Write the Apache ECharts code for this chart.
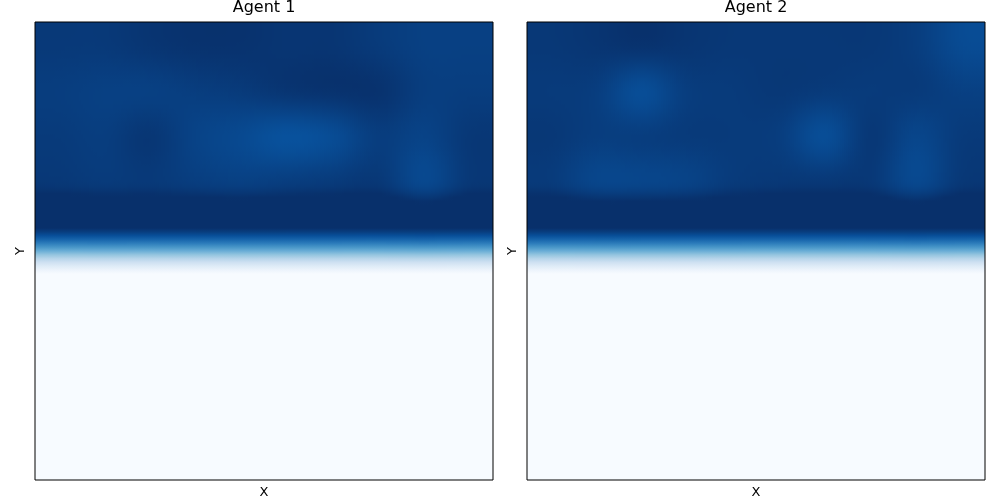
<!DOCTYPE html>
<html>
<head>
<meta charset="utf-8">
<script src="https://cdn.jsdelivr.net/npm/echarts@6/dist/echarts.min.js"></script>
<style>
  html, body { margin: 0; padding: 0; background: #fff; }
  #chart { width: 1000px; height: 500px; }
</style>
</head>
<body>
<div id="chart"></div>
<script>
// panel titles
const agentNames = ["Agent 1", "Agent 2"];

// 10x10 grids, row 0 = top of the panel
const agent1Values = [
  [0.965, 0.965, 0.98, 0.99, 0.99, 0.98, 0.98, 0.96, 0.94, 0.94],
  [0.95, 0.94, 0.94, 0.95, 0.96, 0.98, 0.99, 0.99, 0.95, 0.95],
  [0.96, 0.95, 0.975, 0.93, 0.905, 0.875, 0.895, 0.95, 0.93, 0.97],
  [0.97, 0.96, 0.965, 0.95, 0.94, 0.95, 0.96, 0.97, 0.91, 0.97],
  [1, 1, 1, 1, 1, 1, 1, 1, 1, 1],
  [0, 0, 0, 0, 0, 0, 0, 0, 0, 0],
  [0, 0, 0, 0, 0, 0, 0, 0, 0, 0],
  [0, 0, 0, 0, 0, 0, 0, 0, 0, 0],
  [0, 0, 0, 0, 0, 0, 0, 0, 0, 0],
  [0, 0, 0, 0, 0, 0, 0, 0, 0, 0]
];
const agent2Values = [
  [0.97, 0.98, 0.99, 0.98, 0.97, 0.97, 0.97, 0.97, 0.95, 0.90],
  [0.96, 0.95, 0.89, 0.95, 0.96, 0.97, 0.96, 0.96, 0.96, 0.94],
  [0.97, 0.95, 0.95, 0.96, 0.96, 0.95, 0.89, 0.97, 0.92, 0.96],
  [0.96, 0.92, 0.92, 0.93, 0.96, 0.97, 0.97, 0.97, 0.91, 0.97],
  [1, 1, 1, 1, 1, 1, 1, 1, 1, 1],
  [0, 0, 0, 0, 0, 0, 0, 0, 0, 0],
  [0, 0, 0, 0, 0, 0, 0, 0, 0, 0],
  [0, 0, 0, 0, 0, 0, 0, 0, 0, 0],
  [0, 0, 0, 0, 0, 0, 0, 0, 0, 0],
  [0, 0, 0, 0, 0, 0, 0, 0, 0, 0]
];

// matplotlib "Blues"
const bluesColors = ["#f7fbff", "#deebf7", "#c6dbef", "#9ecae1", "#6baed6",
                     "#4292c6", "#2171b5", "#08519c", "#08306b"];

function hexRgb(h) {
  return [parseInt(h.slice(1, 3), 16), parseInt(h.slice(3, 5), 16), parseInt(h.slice(5, 7), 16)];
}
const bluesRgb = bluesColors.map(hexRgb);

function blues(v) {
  v = Math.max(0, Math.min(1, v));
  let p = v * (bluesRgb.length - 1);
  let i = Math.min(bluesRgb.length - 2, Math.floor(p));
  let f = p - i;
  let a = bluesRgb[i], b = bluesRgb[i + 1];
  return "rgb(" + [0, 1, 2].map(k => Math.round(a[k] + (b[k] - a[k]) * f)).join(",") + ")";
}

// bicubic kernel, smooths the cells like imshow(interpolation="bicubic")
function kernel(t) {
  t = Math.abs(t);
  if (t <= 1) return 1.5 * t * t * t - 2.5 * t * t + 1;
  if (t < 2) return -0.5 * t * t * t + 2.5 * t * t - 4 * t + 2;
  return 0;
}

function sample(grid, gx, gy) {
  const n = grid.length, m = grid[0].length;
  const ix = Math.floor(gx), iy = Math.floor(gy);
  let v = 0;
  for (let j = -1; j <= 2; j++) {
    const wy = kernel(gy - (iy + j));
    if (!wy) continue;
    const r = Math.min(n - 1, Math.max(0, iy + j));
    for (let i = -1; i <= 2; i++) {
      const wx = kernel(gx - (ix + i));
      if (!wx) continue;
      const c = Math.min(m - 1, Math.max(0, ix + i));
      v += wx * wy * grid[r][c];
    }
  }
  return v;
}

function cellData(grid) {
  const out = [];
  grid.forEach((row, r) => row.forEach((v, c) => out.push([c, r, v])));
  return out;
}

// each cell is painted as 2px-wide columns with a vertical gradient
function renderCell(grid) {
  return function (params, api) {
    const col = api.value(0), row = api.value(1);
    const p0 = api.coord([col, row]);
    const p1 = api.coord([col + 1, row + 1]);
    const xa = Math.round(p0[0]), xb = Math.round(p1[0]);
    const ya = Math.round(Math.min(p0[1], p1[1])), yb = Math.round(Math.max(p0[1], p1[1]));
    const stopsN = 12;
    const children = [];
    for (let x = xa; x < xb; x += 2) {
      const t = (x + 1 - p0[0]) / (p1[0] - p0[0]);
      const gx = col + t - 0.5;
      const stops = [];
      for (let k = 0; k <= stopsN; k++) {
        const gy = row + k / stopsN - 0.5;
        stops.push({ offset: k / stopsN, color: blues(sample(grid, gx, gy)) });
      }
      children.push({
        type: "rect",
        shape: { x: x, y: ya, width: Math.min(2, xb - x), height: yb - ya },
        style: { fill: new echarts.graphic.LinearGradient(0, 0, 0, 1, stops) }
      });
    }
    return { type: "group", children: children };
  };
}

const grids = [agent1Values, agent2Values];
const font = "DejaVu Sans";

let chart = echarts.init(document.getElementById("chart"), null, { renderer: "canvas" });
let option = {
  animation: false,
  backgroundColor: "#fff",
  title: agentNames.map((name, i) => ({
    text: name,
    left: i === 0 ? 264 : 756,
    top: 0,
    textAlign: "center",
    padding: 0,
    textStyle: { fontFamily: font, fontSize: 16, fontWeight: "normal", color: "#000" }
  })),
  grid: [
    { left: 35, top: 22, width: 458, height: 458 },
    { left: 527, top: 22, width: 458, height: 458 }
  ].map(g => Object.assign(g, {
    show: true, z: 5, outerBoundsMode: "none", containLabel: false,
    backgroundColor: "transparent", borderColor: "#000", borderWidth: 1
  })),
  xAxis: [0, 1].map(i => ({
    type: "value", gridIndex: i, min: 0, max: 10,
    name: "X", nameLocation: "middle", nameGap: 6,
    nameTextStyle: { fontFamily: font, fontSize: 13, color: "#000" },
    axisLine: { show: false }, axisTick: { show: false },
    axisLabel: { show: false }, splitLine: { show: false }
  })),
  yAxis: [0, 1].map(i => ({
    type: "value", gridIndex: i, min: 0, max: 10, inverse: true,
    name: "Y", nameLocation: "middle", nameGap: 8, nameRotate: 90,
    nameTextStyle: { fontFamily: font, fontSize: 13, color: "#000" },
    axisLine: { show: false }, axisTick: { show: false },
    axisLabel: { show: false }, splitLine: { show: false }
  })),
  series: grids.map((g, i) => ({
    type: "custom",
    name: agentNames[i],
    xAxisIndex: i,
    yAxisIndex: i,
    z: 1,
    silent: true,
    encode: { x: 0, y: 1 },
    renderItem: renderCell(g),
    data: cellData(g)
  }))
};
chart.setOption(option);
</script>
</body>
</html>
